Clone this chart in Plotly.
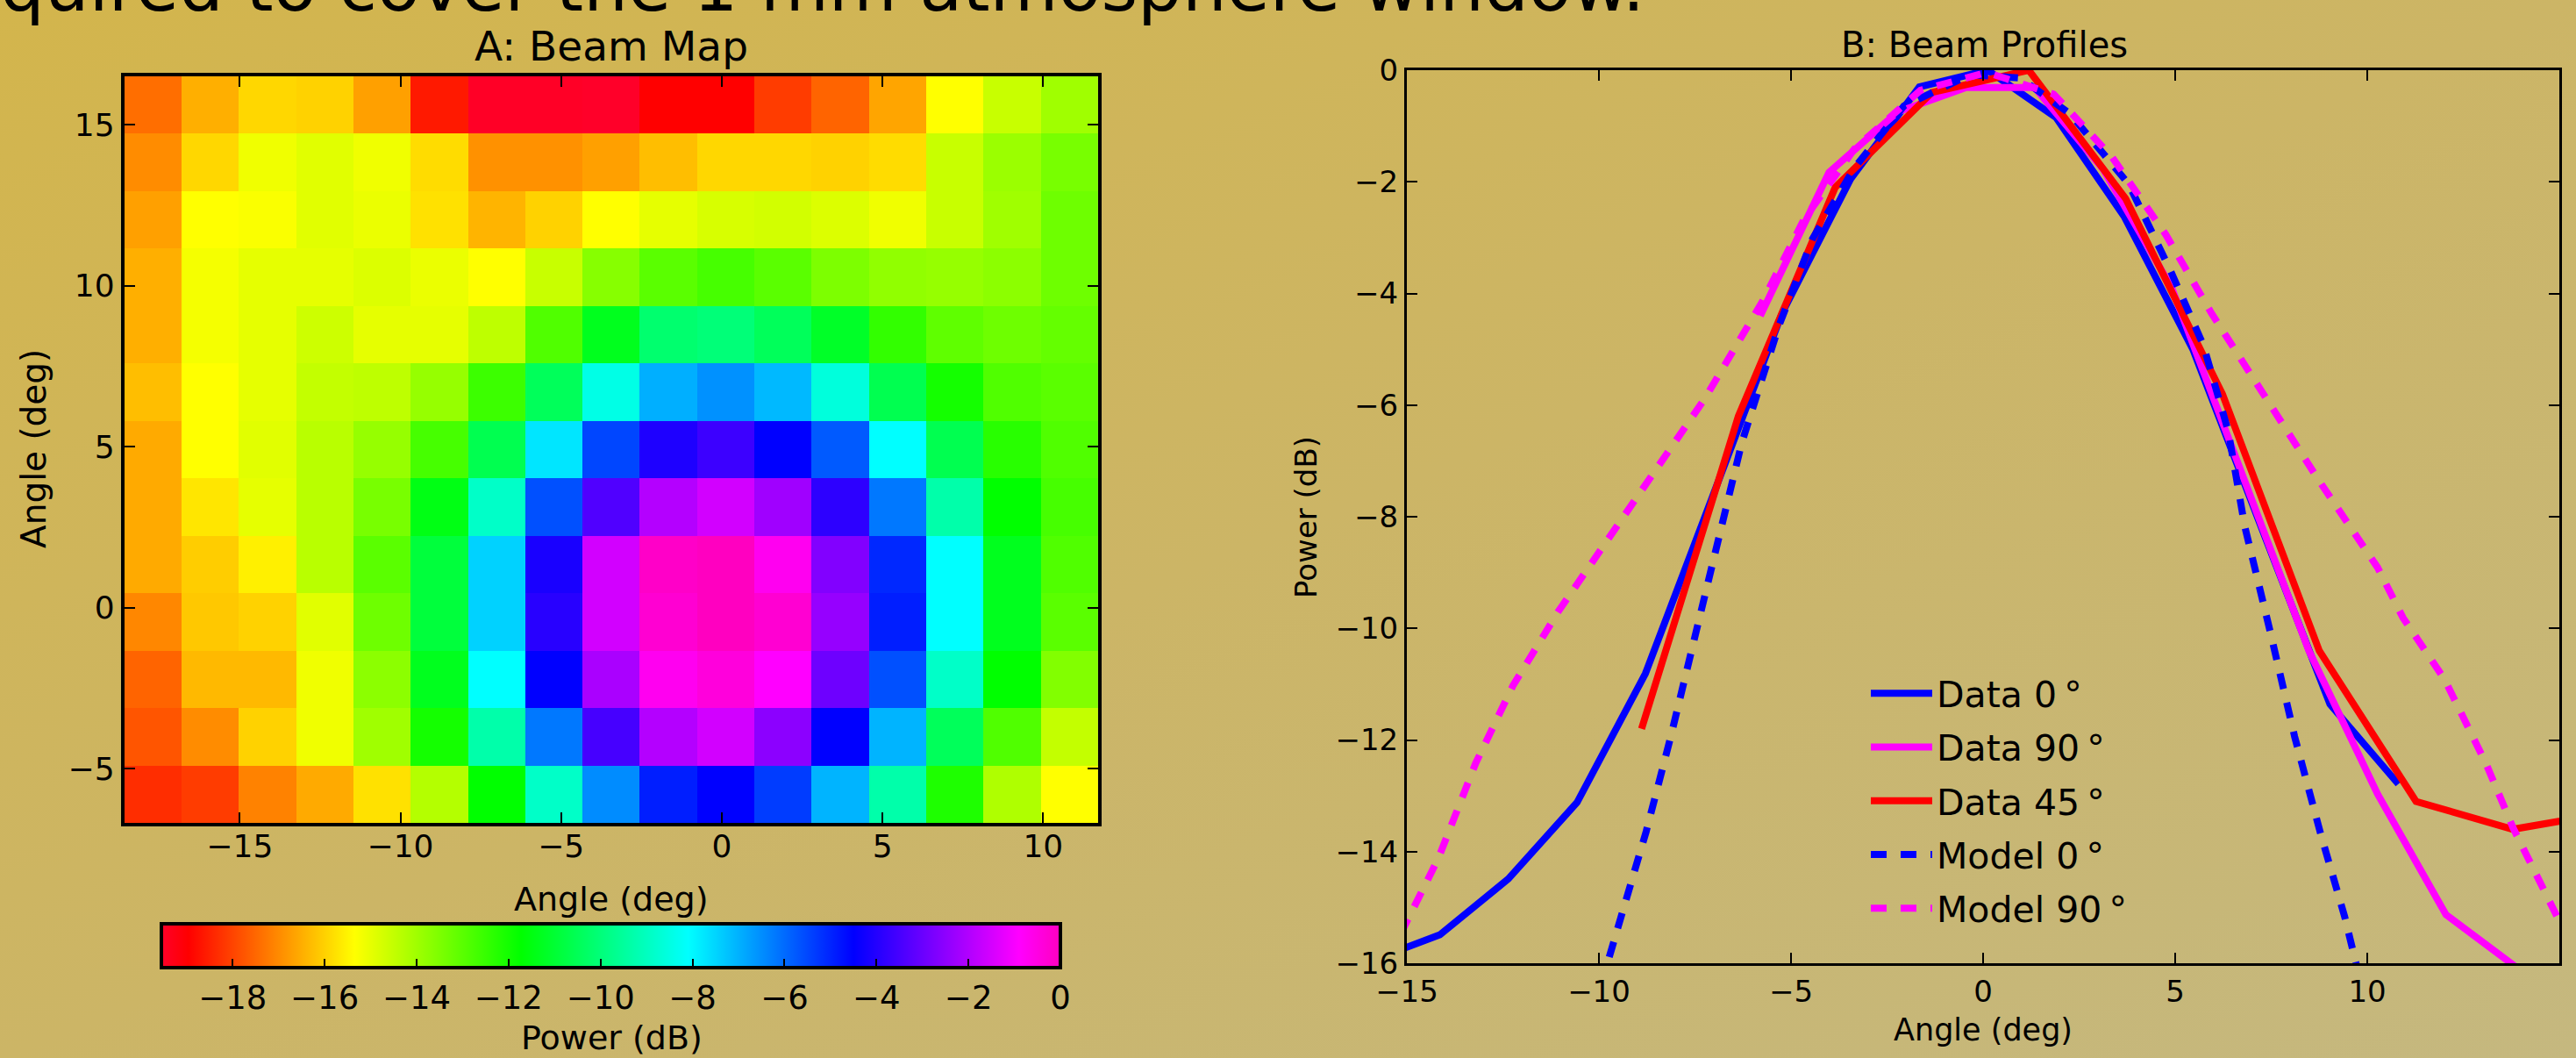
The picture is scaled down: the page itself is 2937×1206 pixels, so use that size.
import base64
import plotly.graph_objects as go

# ---------------- Panel A: beam map ----------------
MAP_X = [-17.70, -15.92, -14.14, -12.36, -10.57, -8.79, -7.01, -5.23, -3.45,
         -1.66, 0.12, 1.90, 3.68, 5.46, 7.25, 9.03, 10.81]
MAP_Y = [15.62, 13.84, 12.05, 10.27, 8.48, 6.70, 4.91, 3.13, 1.34,
         -0.44, -2.23, -4.01, -5.80]            # top row first
MAP_POWER = [                                     # rows listed top to bottom
    [-17.40, -16.48, -15.91, -15.98, -16.69, -18.61, -19.50, -19.50, -19.55, -18.96, -18.96, -18.11, -17.55, -16.62, -15.35, -14.57, -14.00],
    [-16.98, -15.91, -15.13, -14.92, -15.13, -15.84, -16.91, -16.91, -16.69, -16.27, -15.91, -15.91, -15.98, -15.84, -14.57, -13.93, -13.43],
    [-16.69, -15.35, -15.28, -14.92, -15.06, -15.77, -16.41, -15.98, -15.35, -14.99, -14.78, -14.71, -14.85, -15.13, -14.57, -14.00, -13.29],
    [-16.48, -15.20, -14.99, -14.99, -14.85, -15.06, -15.35, -14.57, -13.65, -13.01, -12.72, -13.01, -13.50, -13.79, -13.86, -13.72, -13.29],
    [-16.48, -15.20, -14.99, -14.64, -14.99, -14.99, -14.42, -12.86, -11.30, -10.16, -10.02, -10.45, -11.16, -12.44, -13.08, -13.29, -13.15],
    [-16.27, -15.35, -14.99, -14.50, -14.42, -13.86, -12.58, -10.45, -8.45, -6.97, -6.54, -7.11, -8.59, -10.59, -12.01, -12.86, -13.01],
    [-16.55, -15.35, -14.92, -14.35, -13.86, -12.72, -10.59, -7.74, -5.48, -4.07, -3.65, -4.50, -5.77, -8.09, -10.59, -12.30, -12.86],
    [-16.55, -15.70, -14.99, -14.35, -13.43, -11.44, -8.88, -5.62, -3.37, -1.96, -1.53, -2.24, -3.86, -6.19, -9.31, -11.73, -12.72],
    [-16.55, -16.06, -15.56, -14.35, -13.01, -10.87, -7.46, -4.14, -1.53, -0.13, -0.02, -0.69, -2.66, -5.06, -8.09, -11.30, -12.86],
    [-17.05, -16.13, -15.98, -14.92, -13.29, -10.87, -7.46, -3.93, -1.53, -0.27, -0.02, -0.27, -2.38, -4.92, -8.09, -11.30, -13.01],
    [-17.55, -16.34, -16.34, -15.13, -13.72, -11.30, -8.09, -4.50, -2.10, -0.69, -0.41, -0.90, -2.94, -5.62, -8.88, -11.73, -13.57],
    [-17.76, -16.98, -15.98, -15.13, -14.00, -12.01, -9.31, -6.19, -3.51, -1.96, -1.53, -2.52, -4.50, -7.04, -10.45, -12.86, -14.50],
    [-18.33, -18.11, -17.12, -16.55, -15.77, -14.28, -11.73, -8.88, -6.47, -4.92, -4.50, -5.34, -7.04, -9.31, -12.16, -14.21, -15.35],
]
MAP_XRANGE = [-18.59, 11.71]
MAP_YRANGE = [-6.69, 16.51]
MAP_XTICKS = [-15, -10, -5, 0, 5, 10]
MAP_YTICKS = [-5, 0, 5, 10, 15]
CBAR_RANGE = [-19.55, 0.0]
CBAR_TICKS = [-18, -16, -14, -12, -10, -8, -6, -4, -2, 0]

# ---------------- Panel B: beam profiles ----------------
D0_X = [-15.92, -14.14, -12.36, -10.57, -8.79, -7.01, -5.23, -3.45, -1.66, 0.12, 1.90, 3.68, 5.46, 7.25, 9.03, 10.81]
D0_Y = [-15.95, -15.49, -14.49, -13.12, -10.81, -7.55, -4.35, -1.95, -0.30, 0.00, -0.85, -2.63, -5.00, -8.20, -11.36, -12.79]

D90_X = [-5.80, -4.01, -2.23, -0.44, 1.34, 3.13, 4.91, 6.70, 8.48, 10.27, 12.05, 13.84]
D90_Y = [-4.40, -1.83, -0.75, -0.31, -0.31, -1.78, -3.90, -7.20, -10.40, -12.97, -15.13, -16.05]

D45_X = [-8.89, -6.37, -3.85, -1.33, 1.19, 3.71, 6.23, 8.75, 11.27, 13.79, 16.31]
D45_Y = [-11.80, -6.20, -2.10, -0.40, 0.00, -2.30, -5.80, -10.40, -13.10, -13.60, -13.30]

M0_X = [-9.95, -9.42, -8.77, -8.13, -7.47, -6.83, -6.28, -5.31, -4.44, -3.36, -2.06, -0.33,
        0.97, 2.26, 3.79, 4.87, 5.73, 6.38, 6.81, 7.47, 8.11, 8.77, 9.41, 9.85]
M0_Y = [-16.40, -15.16, -13.64, -11.94, -10.05, -8.17, -6.67, -4.57, -3.02, -1.76, -0.64, -0.08,
        -0.14, -0.78, -2.04, -3.58, -4.92, -6.46, -8.17, -10.05, -11.94, -13.64, -15.16, -16.40]

M90_X = [-15.50, -15.00, -14.18, -13.21, -12.24, -11.05, -8.77, -7.26, -5.74, -4.66, -3.35, -1.63, 0.10,
         1.84, 3.35, 4.76, 5.95, 7.47, 8.76, 10.27, 10.93, 12.01, 13.09, 13.80, 15.00, 15.50]
M90_Y = [-15.94, -15.25, -14.12, -12.42, -11.03, -9.69, -7.44, -5.90, -4.14, -2.67, -1.41, -0.36, -0.04,
         -0.43, -1.55, -2.95, -4.36, -5.97, -7.37, -8.91, -9.81, -10.91, -12.42, -13.58, -15.25, -15.94]

PROF_XRANGE = [-15, 15]
PROF_YRANGE = [-16, 0]
PROF_XTICKS = [-15, -10, -5, 0, 5, 10, 15]
PROF_YTICKS = [0, -2, -4, -6, -8, -10, -12, -14, -16]

W, H = 2937, 1206
FONT = "DejaVu Sans"


def px_x(p):
    return p / W


def px_y(p):
    return 1 - p / H


GIST_RAINBOW = [
    [0.000, "rgb(255,0,41)"],
    [0.030, "rgb(255,0,0)"],
    [0.215, "rgb(255,255,0)"],
    [0.400, "rgb(0,255,0)"],
    [0.586, "rgb(0,255,255)"],
    [0.770, "rgb(0,0,255)"],
    [0.954, "rgb(255,0,255)"],
    [1.000, "rgb(255,0,191)"],
]

fig = go.Figure()

fig.add_trace(go.Heatmap(
    x=MAP_X, y=MAP_Y[::-1], z=MAP_POWER[::-1],
    colorscale=GIST_RAINBOW, zmin=CBAR_RANGE[0], zmax=CBAR_RANGE[1],
    zsmooth=False, xaxis="x", yaxis="y", showlegend=False,
    colorbar=dict(
        orientation="h", x=px_x(696.5), xanchor="center",
        y=px_y(1053), yanchor="top",
        len=1025, lenmode="pixels", thickness=50, thicknessmode="pixels",
        xpad=0, ypad=0, outlinewidth=4, outlinecolor="black",
        ticks="inside", ticklen=12, tickwidth=2, tickcolor="black",
        tickvals=CBAR_TICKS, tickfont=dict(family=FONT, size=37, color="black"),
    ),
))

line_w = 8
dash = "18px,16px"
SP = "\u2009"
fig.add_trace(go.Scatter(x=D0_X, y=D0_Y, mode="lines", name=f"Data 0{SP}°",
                         line=dict(color="#0000ff", width=line_w), xaxis="x2", yaxis="y2",
                         legendgroup="a"))
fig.add_trace(go.Scatter(x=D90_X, y=D90_Y, mode="lines", name=f"Data 90{SP}°",
                         line=dict(color="#ff00ff", width=line_w), xaxis="x2", yaxis="y2",
                         legendgroup="b"))
fig.add_trace(go.Scatter(x=D45_X, y=D45_Y, mode="lines", name=f"Data 45{SP}°",
                         line=dict(color="#ff0000", width=line_w), xaxis="x2", yaxis="y2",
                         legendgroup="c"))
fig.add_trace(go.Scatter(x=M0_X, y=M0_Y, mode="lines", name=f"Model 0{SP}°",
                         line=dict(color="#0000ff", width=line_w, dash=dash), xaxis="x2", yaxis="y2",
                         legendgroup="d"))
fig.add_trace(go.Scatter(x=M90_X, y=M90_Y, mode="lines", name=f"Model 90{SP}°",
                         line=dict(color="#ff00ff", width=line_w, dash=dash), xaxis="x2", yaxis="y2",
                         legendgroup="e"))

axis_common = dict(showgrid=False, zeroline=False, showline=True, linecolor="black",
                   mirror="ticks", ticks="inside", ticklen=12, tickwidth=2, tickcolor="black")

svg = (f'<svg xmlns="http://www.w3.org/2000/svg" width="{W}" height="{H}" '
       f'viewBox="0 0 {W} {H}" preserveAspectRatio="none">'
       '<defs><linearGradient id="g" x1="0" y1="0" x2="1" y2="1">'
       '<stop offset="0" stop-color="#d3b54c"/>'
       '<stop offset="0.5" stop-color="#ccb566"/>'
       '<stop offset="1" stop-color="#c5b87f"/>'
       '</linearGradient></defs>'
       f'<rect width="{W}" height="{H}" fill="url(#g)"/></svg>')
bg_src = "data:image/svg+xml;base64," + base64.b64encode(svg.encode()).decode()

annotations = [
    dict(text="quired to cover the 1 mm atmosphere window.", x=px_x(-2), y=px_y(33),
         xanchor="left", yanchor="bottom", font=dict(family=FONT, size=80, color="black")),
    dict(text="A: Beam Map", x=px_x(697), y=px_y(53), xanchor="center", yanchor="middle",
         font=dict(family=FONT, size=47, color="black")),
    dict(text="B: Beam Profiles", x=px_x(2262), y=px_y(51), xanchor="center", yanchor="middle",
         font=dict(family=FONT, size=40, color="black")),
    dict(text="Angle (deg)", x=px_x(697), y=px_y(1025), xanchor="center", yanchor="middle",
         font=dict(family=FONT, size=38, color="black")),
    dict(text="Angle (deg)", x=px_x(38), y=px_y(512), xanchor="center", yanchor="middle",
         textangle=-90, font=dict(family=FONT, size=39, color="black")),
    dict(text="Power (dB)", x=px_x(697), y=px_y(1183), xanchor="center", yanchor="middle",
         font=dict(family=FONT, size=38, color="black")),
    dict(text="Angle (deg)", x=px_x(2261), y=px_y(1174), xanchor="center", yanchor="middle",
         font=dict(family=FONT, size=35, color="black")),
    dict(text="Power (dB)", x=px_x(1489), y=px_y(589), xanchor="center", yanchor="middle",
         textangle=-90, font=dict(family=FONT, size=34, color="black")),
]
for a in annotations:
    a.update(xref="paper", yref="paper", showarrow=False)

fig.update_layout(
    width=W, height=H, margin=dict(l=0, r=0, t=0, b=0, autoexpand=False),
    paper_bgcolor="#ccb566", plot_bgcolor="rgba(0,0,0,0)",
    font=dict(family=FONT, color="black"),
    images=[dict(source=bg_src, xref="paper", yref="paper", x=0, y=1, sizex=1, sizey=1,
                 xanchor="left", yanchor="top", sizing="stretch", layer="below")],
    xaxis=dict(domain=[px_x(141.8), px_x(1252)], range=MAP_XRANGE, tickvals=MAP_XTICKS,
               linewidth=4, tickfont=dict(size=36), anchor="y", ticklabelstandoff=-8,
               **axis_common),
    yaxis=dict(domain=[px_y(938), px_y(87)], range=MAP_YRANGE, tickvals=MAP_YTICKS,
               linewidth=4, tickfont=dict(size=36), anchor="x", **axis_common),
    xaxis2=dict(domain=[px_x(1604), px_x(2918)], range=PROF_XRANGE, tickvals=PROF_XTICKS,
                linewidth=3, tickfont=dict(size=34), anchor="y2", **axis_common),
    yaxis2=dict(domain=[px_y(1098), px_y(80)], range=PROF_YRANGE, tickvals=PROF_YTICKS,
                linewidth=3, tickfont=dict(size=34), anchor="x2", **axis_common),
    legend=dict(x=px_x(2128), y=px_y(757), xanchor="left", yanchor="top",
                bgcolor="rgba(0,0,0,0)", borderwidth=0, tracegroupgap=5,
                font=dict(family=FONT, size=41, color="black"), itemwidth=70),
    annotations=annotations,
    showlegend=True,
)

fig.write_html(
    "out.html",
    config={"displayModeBar": False},
    post_script="document.body.style.margin='0';document.body.style.background='#ccb566';",
)
